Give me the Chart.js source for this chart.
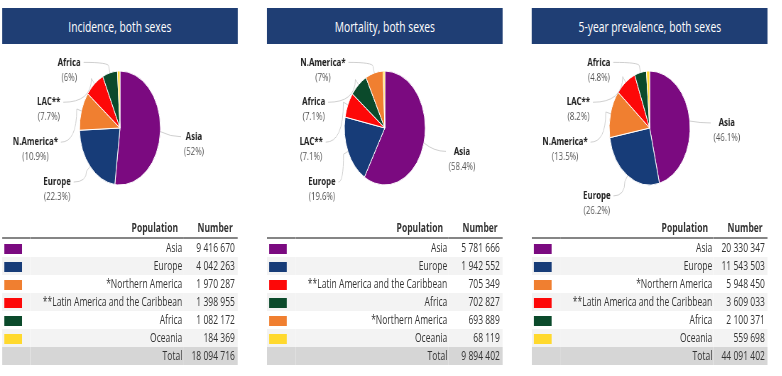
<!DOCTYPE html>
<html>
<head>
<meta charset="utf-8">
<script src="https://cdn.jsdelivr.net/npm/chart.js@4"></script>
<style>
  html, body { margin: 0; padding: 0; background: #fff; overflow: hidden; }
  body { width: 782px; height: 376px; font-family: "Open Sans", sans-serif; }
  #stage { position: absolute; left: 0; top: 0; height: 376px; transform-origin: 0 0; }
  .panel { position: absolute; top: 0; width: 332px; height: 376px; }
  .title { position: absolute; left: 0; top: 8px; width: 100%; height: 36px; line-height: 37px;
           background: #1f3e74; color: #fff; font-size: 14.5px; text-align: center; }
  .panel canvas { position: absolute; left: 0; top: 44px; }
  table { position: absolute; left: 0; top: 219px; width: 332px; border-collapse: collapse;
          table-layout: fixed; font-size: 12px; color: #333; }
  th { height: 18px; line-height: 18px; padding: 0; font-weight: 700; border-bottom: 2px solid #858585; }
  td { height: 18px; line-height: 18px; padding: 0; }
  .pop { text-align: right; padding-right: 2px; }
  .num { text-align: right; padding-right: 4px; }
  th.pop { padding-right: 8px; }
  th.num { padding-right: 7px; }
  tr.alt td { background: #f3f3f3; }
  tr.total td { background: #d6d6d6; }
  .sw { display: inline-block; width: 25px; height: 10px; margin-left: 3px; vertical-align: middle; }
</style>
</head>
<body>
<div id="stage"></div>
<script>
// figure is horizontally compressed in the original
const S = 0.71;

const titles = ['Incidence, both sexes', 'Mortality, both sexes', '5-year prevalence, both sexes'];

const incidenceRegions = ['Asia', 'Europe', '*Northern America', '**Latin America and the Caribbean', 'Africa', 'Oceania'];
const incidenceShort = ['Asia', 'Europe', 'N.America*', 'LAC**', 'Africa', 'Oceania'];
const incidenceValues = [9416670, 4042263, 1970287, 1398955, 1082172, 184369];

const mortalityRegions = ['Asia', 'Europe', '**Latin America and the Caribbean', 'Africa', '*Northern America', 'Oceania'];
const mortalityShort = ['Asia', 'Europe', 'LAC**', 'Africa', 'N.America*', 'Oceania'];
const mortalityValues = [5781666, 1942552, 705349, 702827, 693889, 68119];

const prevalenceRegions = ['Asia', 'Europe', '*Northern America', '**Latin America and the Caribbean', 'Africa', 'Oceania'];
const prevalenceShort = ['Asia', 'Europe', 'N.America*', 'LAC**', 'Africa', 'Oceania'];
const prevalenceValues = [20330347, 11543503, 5948450, 3609033, 2100371, 559698];

const regionColors = {
  'Asia': '#7b0a80',
  'Europe': '#173c78',
  'N.America*': '#f07f30',
  'LAC**': '#fd0808',
  'Africa': '#0b4a2b',
  'Oceania': '#ffd92e'
};

const panels = [
  { title: titles[0], regions: incidenceRegions, short: incidenceShort, values: incidenceValues, left: 2 },
  { title: titles[1], regions: mortalityRegions, short: mortalityShort, values: mortalityValues, left: 267 },
  { title: titles[2], regions: prevalenceRegions, short: prevalenceShort, values: prevalenceValues, left: 532 }
];

const fmt = n => String(n).replace(/\B(?=(\d{3})+(?!\d))/g, ' ');
const pctText = p => { const s = p.toFixed(1); return s.endsWith('.0') ? s.slice(0, -2) : s; };

// labels outside the pie with curved leader lines
const pieLabels = {
  id: 'pieLabels',
  afterDatasetsDraw(chart) {
    const ctx = chart.ctx;
    const meta = chart.getDatasetMeta(0);
    const names = chart.data.labels;
    const vals = chart.data.datasets[0].data;
    const tot = vals.reduce((a, b) => a + b, 0);
    const first = meta.data[0];
    const cx = first.x, cy = first.y, r = first.outerRadius;

    const items = meta.data.map((arc, i) => {
      const a = (arc.startAngle + arc.endAngle) / 2;
      return { i, a, ex: cx + Math.cos(a) * r, ey: cy + Math.sin(a) * r, pct: vals[i] / tot * 100 };
    }).filter(it => it.pct >= 2);

    const left = items.filter(it => Math.cos(it.a) < 0).sort((p, q) => q.a - p.a);
    const right = items.filter(it => Math.cos(it.a) >= 0);

    const fontB = '700 11px "Open Sans"';
    const fontR = '400 11px "Open Sans"';

    function block(it, xEdge, yMid, alignRight) {
      const name = names[it.i];
      const p = '(' + pctText(it.pct) + '%)';
      ctx.font = fontB; const wn = ctx.measureText(name).width;
      ctx.font = fontR; const wp = ctx.measureText(p).width;
      const bw = Math.max(wn, wp);
      const mid = alignRight ? xEdge - bw / 2 : xEdge + bw / 2;
      ctx.textAlign = 'center';
      ctx.textBaseline = 'middle';
      ctx.font = fontB; ctx.fillStyle = '#222';
      ctx.fillText(name, mid, yMid - 7.5);
      ctx.font = fontR; ctx.fillStyle = '#555';
      ctx.fillText(p, mid, yMid + 7.5);
    }

    ctx.save();
    ctx.strokeStyle = '#cfcfcf';
    ctx.lineWidth = 1;

    let prev = -Infinity;
    left.forEach((it, k) => {
      let dy = -1.02 * r + k * 0.7 * r;
      dy = Math.max(dy, Math.sin(it.a) * 1.58 * r, prev + 0.7 * r);
      prev = dy;
      const t = (dy - 0.15 * r) / (1.5 * r);
      const xr = cx - 1.55 * r * Math.sqrt(Math.max(0, 1 - t * t));
      const ny = cy + dy - 7.5;
      const px = cx + Math.cos(it.a) * r * 1.12, py = cy + Math.sin(it.a) * r * 1.12;
      ctx.beginPath();
      ctx.moveTo(xr + 4, ny);
      ctx.quadraticCurveTo(px, ny, px, py);
      ctx.lineTo(it.ex, it.ey);
      ctx.stroke();
      block(it, xr, cy + dy, true);
    });

    right.forEach(it => {
      const ny = cy + Math.sin(it.a) * 1.3 * r + 4;
      const xl = cx + 1.58 * r;
      ctx.beginPath();
      ctx.moveTo(it.ex, it.ey);
      ctx.quadraticCurveTo(it.ex + 0.25 * r, ny, xl - 4, ny);
      ctx.stroke();
      block(it, xl, ny + 7.5, false);
    });
    ctx.restore();
  }
};

const stage = document.getElementById('stage');
stage.style.width = (782 / S) + 'px';
stage.style.transform = 'scaleX(' + S + ')';

panels.forEach(p => {
  const div = document.createElement('div');
  div.className = 'panel';
  div.style.left = (p.left / S) + 'px';

  const t = document.createElement('div');
  t.className = 'title';
  t.textContent = p.title;
  div.appendChild(t);

  const cv = document.createElement('canvas');
  cv.width = 332; cv.height = 180;
  div.appendChild(cv);

  const total = p.values.reduce((a, b) => a + b, 0);
  let html = '<colgroup><col style="width:40px"><col style="width:216px"><col style="width:76px"></colgroup>';
  html += '<tr><th></th><th class="pop">Population</th><th class="num">Number</th></tr>';
  p.regions.forEach((name, i) => {
    html += '<tr' + (i % 2 ? ' class="alt"' : '') + '><td><span class="sw" style="background:' +
      regionColors[p.short[i]] + '"></span></td><td class="pop">' + name + '</td><td class="num">' +
      fmt(p.values[i]) + '</td></tr>';
  });
  html += '<tr class="total"><td></td><td class="pop">Total</td><td class="num">' + fmt(total) + '</td></tr>';
  const tb = document.createElement('table');
  tb.innerHTML = html;
  div.appendChild(tb);
  stage.appendChild(div);

  new Chart(cv, {
    type: 'pie',
    data: {
      labels: p.short,
      datasets: [{
        data: p.values,
        backgroundColor: p.short.map(s => regionColors[s]),
        borderColor: '#ffffff',
        borderWidth: 1,
        radius: 57
      }]
    },
    options: {
      responsive: false,
      animation: false,
      radius: 57,
      layout: { padding: { top: 0, bottom: 12 } },
      plugins: {
        legend: { display: false },
        tooltip: { enabled: false }
      }
    },
    plugins: [pieLabels]
  });
});
</script>
</body>
</html>
